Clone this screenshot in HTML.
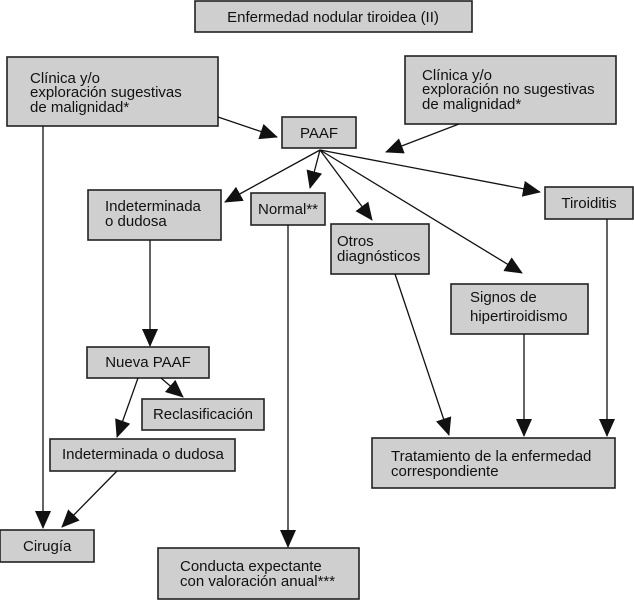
<!DOCTYPE html>
<html><head><meta charset="utf-8"><style>
html,body{margin:0;padding:0;background:#fff;}
svg{display:block;}
text{font-family:"Liberation Sans",Arial,sans-serif;font-size:15px;fill:#111;}
rect{fill:#cfcfcf;stroke:#222;stroke-width:1.6;}
line{stroke:#111;stroke-width:1.3;}
</style></head><body>
<svg width="634" height="600" viewBox="0 0 634 600" xmlns="http://www.w3.org/2000/svg">
<defs>
<marker id="a" markerWidth="18" markerHeight="16" refX="17" refY="8" orient="auto" markerUnits="userSpaceOnUse">
<path d="M0,0 L18,8 L0,16 Z" fill="#111"/>
</marker>
</defs>
<rect x="195" y="1" width="277" height="31"/>
<text x="333" y="22" text-anchor="middle">Enfermedad nodular tiroidea (II)</text>

<rect x="7" y="57" width="211" height="69"/>
<text x="30" y="83">Clínica y/o</text>
<text x="30" y="97">exploración sugestivas</text>
<text x="30" y="112">de malignidad*</text>

<rect x="405" y="56" width="211" height="68"/>
<text x="422" y="80">Clínica y/o</text>
<text x="422" y="94">exploración no sugestivas</text>
<text x="422" y="109">de malignidad*</text>

<rect x="282" y="117" width="74" height="31"/>
<text x="319" y="138" text-anchor="middle">PAAF</text>

<rect x="88" y="190" width="133" height="50"/>
<text x="105" y="211">Indeterminada</text>
<text x="105" y="226">o dudosa</text>

<rect x="251" y="193" width="74" height="32"/>
<text x="288" y="214" text-anchor="middle">Normal**</text>

<rect x="331" y="224" width="98" height="50"/>
<text x="337" y="246">Otros</text>
<text x="337" y="261">diagnósticos</text>

<rect x="545" y="187" width="88" height="32"/>
<text x="589" y="208" text-anchor="middle">Tiroiditis</text>

<rect x="451" y="284" width="137" height="50"/>
<text x="470" y="302">Signos de</text>
<text x="470" y="321">hipertiroidismo</text>

<rect x="87" y="347" width="122" height="31"/>
<text x="148" y="367" text-anchor="middle">Nueva PAAF</text>

<rect x="142" y="399" width="122" height="31"/>
<text x="203" y="419" text-anchor="middle">Reclasificación</text>

<rect x="50" y="439" width="185" height="32"/>
<text x="62" y="459">Indeterminada o dudosa</text>

<rect x="372" y="438" width="243" height="50"/>
<text x="391" y="461">Tratamiento de la enfermedad</text>
<text x="391" y="476">correspondiente</text>

<rect x="0" y="530" width="94" height="32"/>
<text x="23" y="551">Cirugía</text>

<rect x="158" y="548" width="201" height="51"/>
<text x="180" y="571">Conducta expectante</text>
<text x="180" y="586">con valoración anual***</text>

<line x1="218" y1="117" x2="277" y2="137" marker-end="url(#a)"/>
<line x1="459" y1="124" x2="386" y2="152" marker-end="url(#a)"/>
<line x1="320" y1="150" x2="225" y2="202" marker-end="url(#a)"/>
<line x1="320" y1="150" x2="310" y2="188" marker-end="url(#a)"/>
<line x1="320" y1="150" x2="372" y2="220" marker-end="url(#a)"/>
<line x1="320" y1="150" x2="522" y2="273" marker-end="url(#a)"/>
<line x1="320" y1="150" x2="540" y2="192" marker-end="url(#a)"/>
<line x1="43" y1="126" x2="43" y2="528" marker-end="url(#a)"/>
<line x1="150" y1="240" x2="150" y2="346" marker-end="url(#a)"/>
<line x1="288" y1="225" x2="288" y2="547" marker-end="url(#a)"/>
<line x1="395" y1="274" x2="449" y2="435" marker-end="url(#a)"/>
<line x1="524" y1="334" x2="524" y2="436" marker-end="url(#a)"/>
<line x1="607" y1="219" x2="607" y2="436" marker-end="url(#a)"/>
<line x1="161" y1="378" x2="183" y2="397" marker-end="url(#a)"/>
<line x1="138" y1="378" x2="117" y2="437" marker-end="url(#a)"/>
<line x1="117" y1="471" x2="62" y2="527" marker-end="url(#a)"/>
</svg>
</body></html>
